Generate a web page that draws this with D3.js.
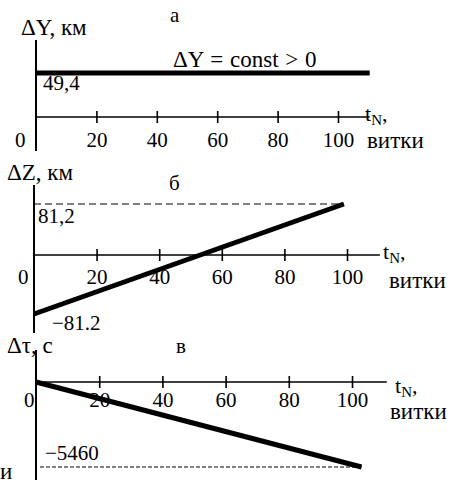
<!DOCTYPE html>
<html>
<head>
<meta charset="utf-8">
<script src="https://cdn.jsdelivr.net/npm/d3@7"></script>
<style>
  body { margin: 0; background: #fff; }
  svg { display: block; }
  svg text { font-family: "Liberation Serif", "DejaVu Serif", serif; fill: #000; }
</style>
</head>
<body>
<script>
const W = 458, H = 480
const FONT = "Liberation Serif, DejaVu Serif, serif"

// data
const tickValues = [20, 40, 60, 80, 100]
const dY = [[0, 49.4], [110.5, 49.4]]        // ΔY = const
const dZ = [[0, -81.2], [99, 81.2]]          // ΔZ linear
const dTau = [[0, 0], [103, -5460]]          // Δτ linear
const panelLetters = ["а", "б", "в"]

const svg = d3.select("body").append("svg").attr("width", W).attr("height", H)

const line = (x, y) => d3.line().x(d => x(d[0])).y(d => y(d[1]))

function drawXAxis(g, x, y0, xMax, labelY) {
  const axis = d3.axisBottom(x).tickValues(tickValues).tickSize(5).tickFormat(d3.format("d"))
  const a = g.append("g").attr("transform", `translate(0,${y0})`).call(axis)
    .attr("font-family", FONT)
  a.select(".domain").remove()
  a.selectAll(".tick line").attr("y1", -6).attr("y2", 6).attr("stroke", "#000").attr("stroke-width", 1.6)
  a.selectAll(".tick text").attr("y", labelY).attr("dy", 0).attr("font-size", 21).attr("fill", "#000")
  g.append("line").attr("x1", x(0)).attr("x2", x(xMax)).attr("y1", y0).attr("y2", y0)
    .attr("stroke", "#000").attr("stroke-width", 1.6)
}

function text(g, x, y, s, size = 23) {
  return g.append("text").attr("x", x).attr("y", y).attr("font-size", size).text(s)
}

function tN(g, x, y) {
  const t = g.append("text").attr("x", x).attr("y", y).attr("font-size", 22)
  t.append("tspan").text("t")
  t.append("tspan").attr("font-size", 15).attr("dy", 4).text("N")
  t.append("tspan").attr("dy", -4).text(",")
}

// ---- panel а
{
  const g = svg.append("g")
  const x = d3.scaleLinear().domain([0, 100]).range([36, 338])
  const y = d3.scaleLinear().domain([0, 49.4]).range([117, 73])
  g.append("line").attr("x1", x(0)).attr("x2", x(0)).attr("y1", 40).attr("y2", 151)
    .attr("stroke", "#000").attr("stroke-width", 2)
  drawXAxis(g, x, y(0), 110.5, 30)
  g.append("path").datum(dY).attr("d", line(x, y)).attr("fill", "none")
    .attr("stroke", "#000").attr("stroke-width", 5)
  text(g, 21, 35, "ΔY, км")
  text(g, 170, 22, panelLetters[0], 21)
  text(g, 173, 67, "ΔY = const > 0").attr("word-spacing", 1)
  text(g, 43, 90, "49,4", 21)
  text(g, 15, 147, "0", 21)
  tN(g, 365, 121)
  text(g, 367, 148, "витки")
}

// ---- panel б
{
  const g = svg.append("g")
  const x = d3.scaleLinear().domain([0, 100]).range([34, 347])
  const y = d3.scaleLinear().domain([-81.2, 0, 81.2]).range([314, 255, 204])
  g.append("line").attr("x1", x(0)).attr("x2", x(0)).attr("y1", 185).attr("y2", 333)
    .attr("stroke", "#000").attr("stroke-width", 2)
  drawXAxis(g, x, y(0), 110.5, 29)
  g.append("line").attr("x1", x(0)).attr("x2", x(99)).attr("y1", y(81.2)).attr("y2", y(81.2))
    .attr("stroke", "#000").attr("stroke-width", 1).attr("stroke-dasharray", "7,4")
  g.append("path").datum(dZ).attr("d", line(x, y)).attr("fill", "none")
    .attr("stroke", "#000").attr("stroke-width", 5)
  text(g, 7, 180, "ΔZ, км")
  text(g, 169, 190, panelLetters[1], 21)
  text(g, 38, 223, "81,2", 21)
  text(g, 52, 330, "−81.2", 21)
  text(g, 18, 284, "0", 21)
  tN(g, 383, 259)
  text(g, 389, 288, "витки")
}

// ---- panel в
{
  const g = svg.append("g")
  const x = d3.scaleLinear().domain([0, 100]).range([36, 352])
  const y = d3.scaleLinear().domain([0, -5460]).range([382, 467])
  g.append("line").attr("x1", x(0)).attr("x2", x(0)).attr("y1", 350).attr("y2", 480)
    .attr("stroke", "#000").attr("stroke-width", 2)
  drawXAxis(g, x, y(0), 111, 25)
  g.append("line").attr("x1", x(0) + 4).attr("x2", x(103)).attr("y1", y(-5460)).attr("y2", y(-5460))
    .attr("stroke", "#000").attr("stroke-width", 1).attr("stroke-dasharray", "4,2")
  g.append("path").datum(dTau).attr("d", line(x, y)).attr("fill", "none")
    .attr("stroke", "#000").attr("stroke-width", 5)
  text(g, 7, 353, "Δτ, с")
  text(g, 176, 353, panelLetters[2], 21)
  text(g, 45, 460, "−5460", 21)
  text(g, 24, 407, "0", 21)
  tN(g, 395, 393)
  text(g, 390, 419, "витки")
  text(g, 0, 479, "и")
}
</script>
</body>
</html>
